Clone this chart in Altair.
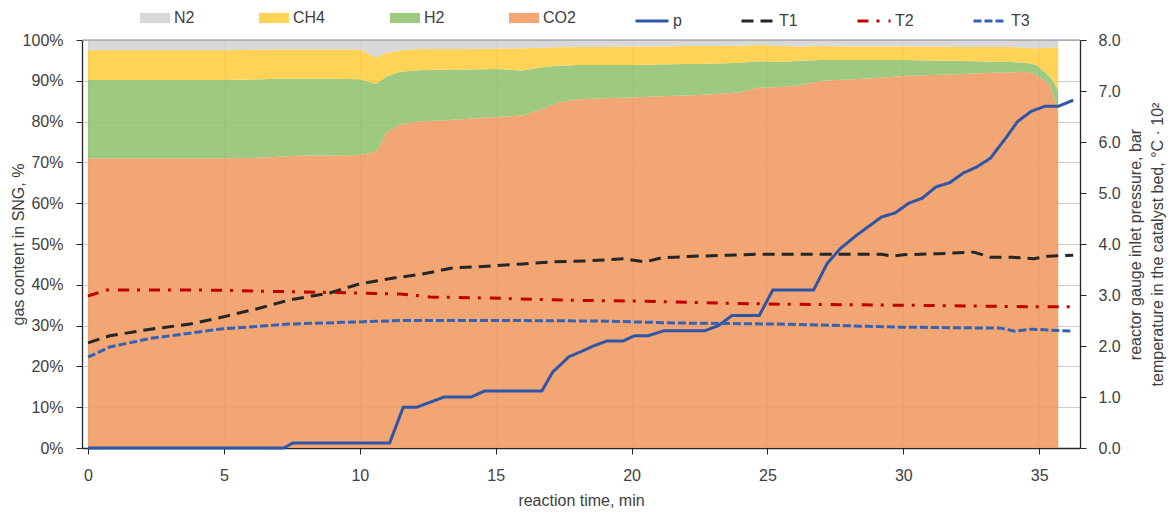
import altair as alt
import pandas as pd

FONT = "Liberation Sans"
TXT = "#404040"

# ---- gas composition (stacked, %), sampled over reaction time ----
GAS_T = [0, 1, 2, 3, 4, 5, 6, 7, 8, 9, 10, 10.6, 11.0, 11.5, 12.2, 13, 14, 15, 16, 16.8, 17.2, 18,
         19, 20, 21, 22, 23, 24, 24.7, 25.5, 26.2, 27, 28, 29, 30, 31, 32, 33, 34, 34.5, 34.9, 35.4, 35.7]
CO2 = [71.0, 71.0, 71.0, 71.0, 71.0, 71.0, 71.1, 71.4, 71.7, 71.7, 71.8, 72.6, 77.5, 79.3, 80.0, 80.3,
       80.7, 81.1, 81.5, 83.3, 84.5, 85.5, 85.7, 85.9, 86.2, 86.4, 86.7, 87.2, 88.3, 88.5, 89.0, 90.0,
       90.3, 90.7, 91.2, 91.4, 91.6, 91.9, 92.1, 92.2, 91.5, 89.0, 82.4]
H2 = [19.2, 19.2, 19.2, 19.2, 19.2, 19.2, 19.2, 19.1, 18.8, 18.8, 18.6, 16.6, 13.7, 12.9, 12.6, 12.4,
      12.1, 11.8, 11.0, 10.1, 9.1, 8.4, 8.2, 8.0, 7.8, 7.7, 7.5, 7.2, 6.5, 6.1, 5.9, 5.1, 4.8, 4.4,
      3.9, 3.6, 3.3, 2.8, 2.5, 2.2, 2.4, 2.0, 5.3]
CH4 = [7.3, 7.3, 7.3, 7.3, 7.3, 7.3, 7.3, 7.2, 7.2, 7.2, 7.3, 6.6, 5.6, 5.2, 5.2, 5.1, 5.0, 5.0, 5.5,
       4.7, 4.6, 4.4, 4.4, 4.5, 4.4, 4.4, 4.3, 4.2, 4.0, 3.9, 3.5, 3.4, 3.3, 3.3, 3.3, 3.4, 3.4, 3.6,
       3.7, 3.7, 4.1, 7.1, 10.6]
N2 = [2.5, 2.5, 2.5, 2.5, 2.5, 2.5, 2.4, 2.3, 2.3, 2.3, 2.3, 4.2, 3.2, 2.6, 2.2, 2.2, 2.2, 2.1, 2.0,
      1.9, 1.8, 1.7, 1.7, 1.6, 1.6, 1.5, 1.5, 1.4, 1.2, 1.5, 1.6, 1.5, 1.6, 1.6, 1.6, 1.6, 1.7, 1.7,
      1.7, 1.9, 2.0, 1.9, 1.7]

GAS_NAMES = ["N2", "CH4", "H2", "CO2"]
GAS_COLORS = ["#D4D4D4", "#FFCF44", "#93C373", "#F09C64"]
STACK_ORDER = {"CO2": 0, "H2": 1, "CH4": 2, "N2": 3}

# ---- pressure (bar) and bed temperatures (°C · 10^2) ----
P_T = [0, 7.2, 7.55, 11.1, 11.6, 12.1, 13.1, 14.1, 14.6, 16.7, 17.1, 17.7, 18.1, 18.6, 19.1, 19.7,
       20.1, 20.6, 21.2, 22.7, 23.2, 23.7, 24.7, 25.2, 26.7, 27.2, 27.7, 28.3, 29.2, 29.7, 30.2, 30.7,
       31.2, 31.7, 32.2, 32.7, 33.2, 33.8, 34.2, 34.7, 35.2, 35.7, 36.25]
P = [0, 0, 0.1, 0.1, 0.8, 0.8, 1.0, 1.0, 1.12, 1.12, 1.49, 1.79, 1.88, 2.0, 2.1, 2.1, 2.2, 2.2, 2.3,
     2.3, 2.4, 2.6, 2.6, 3.1, 3.1, 3.62, 3.92, 4.18, 4.53, 4.61, 4.8, 4.9, 5.12, 5.2, 5.39, 5.51,
     5.68, 6.1, 6.4, 6.6, 6.7, 6.7, 6.82]

T1_T = [0, 0.8, 2.3, 3.75, 4.8, 6.3, 7.4, 8.9, 10.0, 11.2, 12.3, 13.4, 14.9, 16.0, 17.1, 18.4, 19.7,
        20.5, 21.1, 22.3, 23.5, 24.7, 26.5, 28.0, 29.2, 29.6, 30.0, 31.3, 32.6, 33.2, 34.0, 34.8,
        35.3, 36.25]
T1 = [2.06, 2.2, 2.33, 2.43, 2.55, 2.74, 2.9, 3.04, 3.22, 3.33, 3.41, 3.53, 3.57, 3.61, 3.65, 3.67,
      3.71, 3.65, 3.73, 3.76, 3.78, 3.8, 3.8, 3.8, 3.8, 3.76, 3.79, 3.81, 3.84, 3.74, 3.74, 3.71,
      3.76, 3.78]

T2_T = [0, 0.7, 4.1, 7.8, 9.8, 11.5, 12.6, 14.8, 17.4, 20.3, 23.3, 25.5, 29.9, 34.8, 36.25]
T2 = [2.98, 3.1, 3.1, 3.06, 3.04, 3.02, 2.96, 2.94, 2.9, 2.88, 2.84, 2.82, 2.8, 2.77, 2.77]

T3_T = [0, 0.8, 2.3, 3.75, 4.8, 7.4, 9.8, 11.5, 15.2, 18.8, 21.8, 25.5, 29.9, 33.6, 34.1, 34.7, 36.25]
T3 = [1.78, 1.98, 2.15, 2.25, 2.33, 2.43, 2.47, 2.5, 2.5, 2.49, 2.45, 2.43, 2.37, 2.35, 2.29, 2.33, 2.29]

LINE_NAMES = ["p", "T1", "T2", "T3"]
LINE_COLORS = ["#2F56A6", "#262626", "#C00000", "#3562B4"]
LINE_DASHES = [[1, 0], [12, 7], [11, 8, 3, 9], [8, 3]]

# ---- long tables ----
gas_rows = []
for name, vals in zip(["CO2", "H2", "CH4", "N2"], [CO2, H2, CH4, N2]):
    for t, v in zip(GAS_T, vals):
        gas_rows.append({"t": t, "value": v, "gas": name, "ord": STACK_ORDER[name]})
gas_df = pd.DataFrame(gas_rows)

line_rows = []
for name, ts, vals in zip(LINE_NAMES, [P_T, T1_T, T2_T, T3_T], [P, T1, T2, T3]):
    for t, v in zip(ts, vals):
        line_rows.append({"t": t, "v": v, "series": name})
line_df = pd.DataFrame(line_rows)

W, H = 998, 408
x_scale = alt.Scale(domain=[-0.22, 36.5], nice=False, zero=False)
GRID = "#CDCDCD"

x_axis = alt.Axis(
    values=[0, 5, 10, 15, 20, 25, 30, 35], title="reaction time, min",
    grid=True, gridColor=GRID, gridWidth=1,
    domainColor="#262626", domainWidth=1.3, tickColor="#262626", tickSize=6,
    labelFontSize=16, labelPadding=13, labelColor=TXT, labelFont=FONT,
    titleFontSize=16, titleFontWeight="normal", titleColor=TXT, titleFont=FONT,
    titleX=499, titleY=52, titleBaseline="middle", titleAlign="center",
)

left_axis = alt.Axis(
    values=list(range(0, 101, 10)), labelExpr="datum.value + '%'",
    title="gas content in SNG, %",
    grid=True, gridColor=GRID, gridWidth=1,
    domainColor="#262626", domainWidth=1.3, tickColor="#262626", tickSize=6,
    labelFontSize=16, labelPadding=13, labelColor=TXT, labelFont=FONT,
    titleFontSize=16, titleFontWeight="normal", titleColor=TXT, titleFont=FONT,
    titleX=-64, titleY=204, titleBaseline="middle", titleAlign="center", titleAngle=270,
)

right_axis = alt.Axis(
    orient="right", values=[0, 1, 2, 3, 4, 5, 6, 7, 8], format=".1f",
    title=["reactor gauge inlet pressure, bar", "temperature in the catalyst bed, °C · 10²"],
    grid=False,
    domainColor="#262626", domainWidth=1.3, tickColor="#262626", tickSize=6,
    labelFontSize=16, labelPadding=12, labelColor=TXT, labelFont=FONT,
    titleFontSize=16, titleFontWeight="normal", titleColor=TXT, titleFont=FONT,
    titleX=55, titleY=204, titleBaseline="middle", titleAlign="center", titleAngle=270,
    titleLineHeight=22,
)

gas_legend = alt.Legend(
    title=None, orient="none", legendX=58, legendY=-37, direction="horizontal",
    symbolType="M-1,-0.34H1V0.34H-1Z", symbolSize=900, symbolStrokeWidth=0,
    symbolOpacity=0.9, labelFontSize=16, labelOffset=4, columnPadding=64,
    labelColor=TXT, labelFont=FONT,
)

line_legend = alt.Legend(
    title=None, orient="none", legendX=552, legendY=-37, direction="horizontal",
    symbolType="stroke", symbolSize=1089, symbolStrokeWidth=3,
    labelFontSize=16, labelOffset=3, columnPadding=53,
    labelColor=TXT, labelFont=FONT,
)

areas = alt.Chart(gas_df).mark_area(opacity=0.9, interpolate="linear").encode(
    x=alt.X("t:Q", scale=x_scale, axis=x_axis),
    y=alt.Y("value:Q", stack="zero", scale=alt.Scale(domain=[0, 100], nice=False), axis=left_axis),
    fill=alt.Fill("gas:N", scale=alt.Scale(domain=GAS_NAMES, range=GAS_COLORS), legend=gas_legend),
    order=alt.Order("ord:Q"),
)

# top frame line at 100 %
frame = alt.Chart(pd.DataFrame({"top": [100]})).mark_rule(color="#8C8C8C", strokeWidth=1.2).encode(
    y=alt.Y("top:Q", scale=alt.Scale(domain=[0, 100], nice=False), axis=None),
)

lines = alt.Chart(line_df).mark_line(strokeWidth=3, interpolate="linear").encode(
    x=alt.X("t:Q", scale=x_scale),
    y=alt.Y("v:Q", scale=alt.Scale(domain=[0, 8], nice=False), axis=right_axis),
    stroke=alt.Stroke("series:N", scale=alt.Scale(domain=LINE_NAMES, range=LINE_COLORS),
                      legend=line_legend),
    strokeDash=alt.StrokeDash("series:N", scale=alt.Scale(domain=LINE_NAMES, range=LINE_DASHES),
                              legend=line_legend),
)

chart = (
    alt.layer(areas, frame, lines)
    .resolve_scale(y="independent")
    .properties(
        width=W, height=H,
        padding={"left": 82, "top": 40, "right": 94, "bottom": 67},
        autosize=alt.AutoSizeParams(type="none"),
        background="white",
    )
    .configure_view(stroke=None)
)

chart.save("out.html", embed_options={"renderer": "svg", "actions": False})
